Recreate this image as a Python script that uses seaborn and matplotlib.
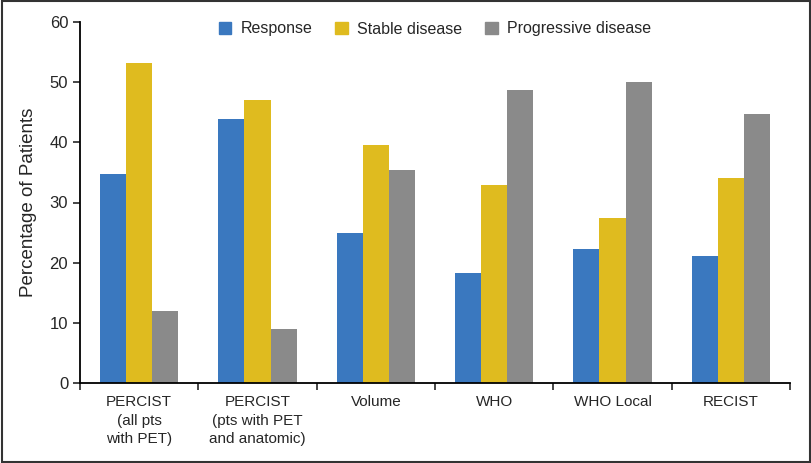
import pandas as pd
import matplotlib.pyplot as plt
import matplotlib.patches as mpatches
import seaborn as sns

# Dados
criteria = ['PERCIST\n(all pts\nwith PET)', 'PERCIST\n(pts with PET\nand anatomic)',
            'Volume', 'WHO', 'WHO Local', 'RECIST']
response = [34.8, 43.9, 24.9, 18.3, 22.3, 21.1]
stable = [53.2, 47.0, 39.5, 32.9, 27.5, 34.1]
progressive = [12.0, 9.0, 35.4, 48.7, 50.0, 44.7]
series = ['Response', 'Stable disease', 'Progressive disease']
colors = ['#3a78bf', '#dfbb1f', '#8a8a8a']

df = pd.DataFrame({
    'Criteria': criteria * 3,
    'Outcome': [s for s in series for _ in criteria],
    'Value': response + stable + progressive,
})

sns.set_style('white')
plt.rcParams['font.family'] = ['Liberation Sans', 'DejaVu Sans']

fig = plt.figure(figsize=(8.12, 4.63), dpi=100)
ax = fig.add_axes([80 / 812, 1 - 383 / 463, 710 / 812, 361 / 463])

sns.barplot(data=df, x='Criteria', y='Value', hue='Outcome', palette=colors,
            width=0.66, gap=0, saturation=1, linewidth=0, ax=ax, legend=False)

ax.set_ylim(0, 60)
ax.set_xlim(-0.5, 5.5)
ax.set_yticks(range(0, 61, 10))
ax.set_xlabel('')
ax.set_ylabel('Percentage of Patients', fontsize=13.5, labelpad=9)
ax.tick_params(axis='y', labelsize=12, length=5, width=1.2, direction='out', left=True)
ax.tick_params(axis='x', labelsize=11, length=0, pad=9)
for lbl in ax.get_xticklabels():
    lbl.set_linespacing(1.4)
ax.set_xticks([i + 0.5 for i in range(-1, 6)], minor=True)
ax.tick_params(axis='x', which='minor', length=5, width=1.2, direction='out', bottom=True)

for side in ['top', 'right']:
    ax.spines[side].set_visible(False)
for side in ['left', 'bottom']:
    ax.spines[side].set_color('black')
    ax.spines[side].set_linewidth(1.3)

handles = [mpatches.Patch(color=c, label=s) for c, s in zip(colors, series)]
fig.legend(handles=handles, loc='center', bbox_to_anchor=(435 / 812, 1 - 29 / 463),
           ncol=3, frameon=False, fontsize=11.5, handlelength=0.8, handleheight=0.8,
           columnspacing=1.4, handletextpad=0.6)

# Moldura em volta da figura
fig.patches.append(mpatches.Rectangle((0.003, 0.003), 0.994, 0.994, transform=fig.transFigure,
                                      fill=False, edgecolor='#333333', linewidth=1.5))

plt.savefig('out.png', dpi=100)
plt.close()
